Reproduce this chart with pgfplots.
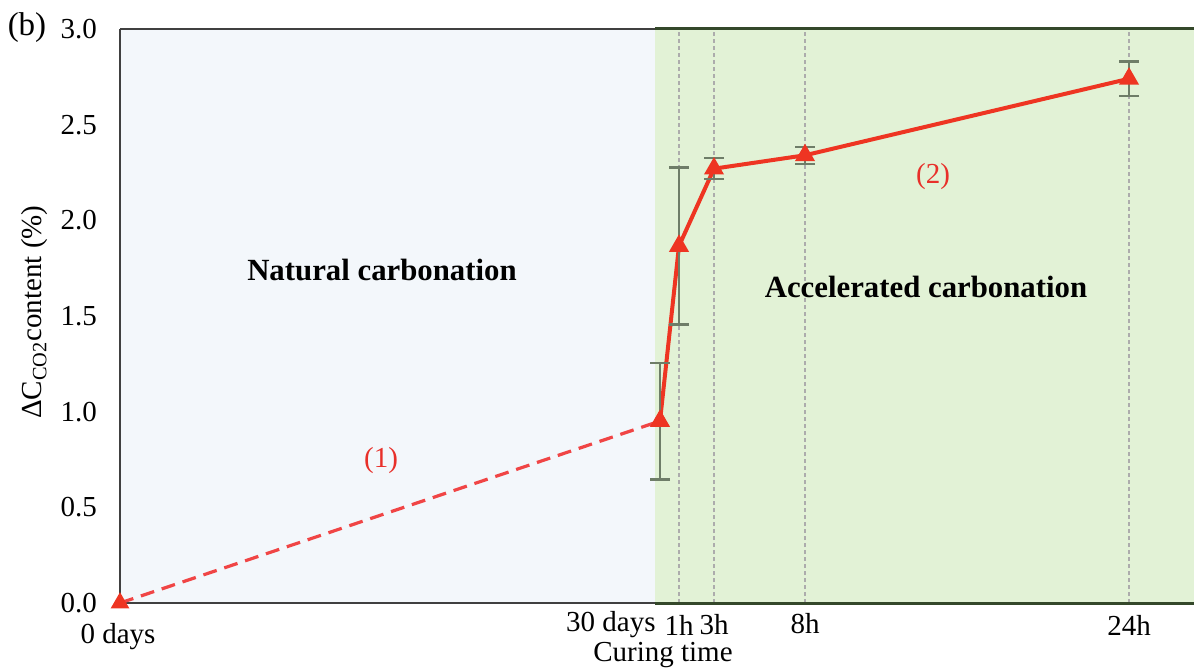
\documentclass[border=0pt]{standalone}
\usepackage{pgfplots}
\pgfplotsset{compat=1.18}
\usepackage{fontspec}
\setmainfont{Liberation Serif}

\definecolor{natbg}{HTML}{F3F7FB}
\definecolor{accbg}{HTML}{E2F2D6}
\definecolor{gridgray}{HTML}{D9D9D9}
\definecolor{borddark}{HTML}{404040}
\definecolor{bordgreen}{HTML}{34482A}
\definecolor{errgray}{HTML}{6E7D68}
\definecolor{linered}{HTML}{EE3522}
\definecolor{dashred}{HTML}{F04545}
\definecolor{txtred}{HTML}{E8302A}

\newcommand{\fs}{\fontsize{14.5}{17}\selectfont}
\newcommand{\fb}{\fontsize{15.4}{18}\selectfont\bfseries}

% x in picture pixels of the original figure, y in %
\pgfplotstableread{
x    y     e
660  0.951 0.305
679  1.866 0.41
714  2.27  0.055
805  2.34  0.045
1129 2.74  0.09
}\accdata

\begin{document}
\begin{tikzpicture}
\begin{axis}[
  at={(0,0)}, anchor=south west,
  scale only axis, width=537pt, height=287pt,
  xmin=120, xmax=1194, ymin=0, ymax=3,
  set layers, clip=false,
  axis line style={draw=none},
  xtick=\empty,
  ytick={0,0.5,1,1.5,2,2.5,3},
  major tick length=0pt,
  ymajorgrids, grid style={color=gridgray, line width=0.8pt},
  /pgf/number format/assume math mode=true,
  yticklabel style={/pgf/number format/fixed, /pgf/number format/fixed zerofill,
    /pgf/number format/precision=1, font=\fs, xshift=-8pt},
]
\fill[natbg, on layer=axis background] (axis cs:120,0) rectangle (axis cs:655,3);
\fill[accbg, on layer=axis background] (axis cs:655,0) rectangle (axis cs:1194,3);

\pgfplotsinvokeforeach{679,714,805,1129}{
  \draw[gray!65, dash pattern=on 2pt off 1.5pt, line width=0.6pt] (axis cs:#1,0) -- (axis cs:#1,3);
}

% borders
\draw[borddark, line width=0.8pt] (axis cs:120,3) -- (axis cs:655,3);
\draw[borddark, line width=1.3pt] (axis cs:120,0) -- (axis cs:120,3);
\draw[borddark, line width=1.3pt] (axis cs:120,0) -- (axis cs:655,0);
\draw[bordgreen, line width=1.5pt] (axis cs:655,3) -- (axis cs:1194,3);
\draw[bordgreen, line width=1.5pt] (axis cs:655,0) -- (axis cs:1194,0);

% (1) natural carbonation
\addplot[dashred, line width=1.6pt, dash pattern=on 7pt off 4pt,
  mark=triangle*, mark size=3.8pt, mark options={solid, fill=linered, draw=linered}]
  coordinates {(120,0) (660,0.951)};

% (2) accelerated carbonation
\addplot[linered, line width=2pt, mark=triangle*, mark size=3.8pt,
  mark options={solid, fill=linered, draw=linered},
  error bars/.cd, y dir=both, y explicit,
  error bar style={line width=1.1pt, color=errgray},
  error mark options={rotate=90, mark size=5pt, line width=1.1pt, color=errgray}]
  table[x=x, y=y, y error=e] {\accdata};

\node[font=\fb] at (axis cs:382,1.74) {Natural carbonation};
\node[font=\fb] at (axis cs:926,1.65) {Accelerated carbonation};
\node[font=\fs, text=txtred] at (axis cs:381,0.745) {(1)};
\node[font=\fs, text=txtred] at (axis cs:933,2.23) {(2)};

% x labels
\node[font=\fs] at (axis cs:118,-0.178) {0 days};
\node[font=\fs, anchor=east, inner sep=0pt] at (axis cs:656,-0.115) {30 days};
\node[font=\fs] at (axis cs:679,-0.115) {1h};
\node[font=\fs] at (axis cs:714,-0.115) {3h};
\node[font=\fs] at (axis cs:805,-0.105) {8h};
\node[font=\fs] at (axis cs:1129,-0.115) {24h};
\node[font=\fs] at (axis cs:663,-0.272) {Curing time};

\node[font=\fontsize{16.5}{19}\selectfont] at (axis cs:27,3.01) {(b)};
\node[font=\fs, rotate=90] at (axis cs:35,1.52) {ΔC\textsubscript{CO2}content (\%)};
\end{axis}
\pgfresetboundingbox
\useasboundingbox (-60pt,-33.5pt) rectangle (537pt,301.5pt);
\end{tikzpicture}
\end{document}
